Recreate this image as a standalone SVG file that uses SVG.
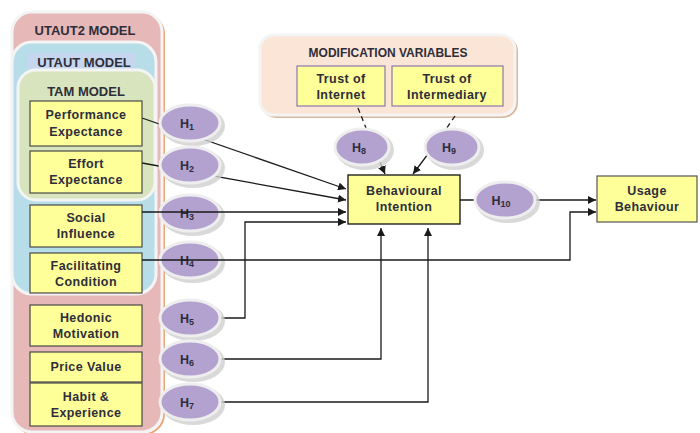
<svg xmlns="http://www.w3.org/2000/svg" width="700" height="433" viewBox="0 0 700 433">
<defs>
<style>
.t{font-family:"Liberation Sans",Arial,sans-serif;font-weight:bold;fill:#2e2e3a;text-anchor:middle}
.ttl{font-size:13px}
.bx{font-size:12.5px;letter-spacing:0.4px}
.hl{font-size:12.5px}
.sub{font-size:9px}
.yb{fill:#ffff99;stroke:#4a4a4a;stroke-width:1.2}
.yp{fill:#ffff99;stroke:#8a78b0;stroke-width:1.2}
.el{fill:#b3a2cf;stroke:#eeeeee;stroke-width:3}
.els{fill:#d0d0d0;stroke:none;opacity:0.8}
.ln{fill:none;stroke:#1a1a1a;stroke-width:1.3}
</style>
<marker id="ah" viewBox="0 0 10 10" refX="10" refY="5" markerWidth="8" markerHeight="8" orient="auto" markerUnits="userSpaceOnUse">
<path d="M0,0 L10,5 L0,10 z" fill="#1a1a1a"/>
</marker>
</defs>
<rect width="700" height="433" fill="#ffffff"/>

<g id="utaut2">
<rect x="14" y="14" width="150" height="420" rx="20" fill="none" stroke="#e8a878" stroke-width="2"/>
<rect x="12" y="12" width="150" height="420" rx="20" fill="#e6b8b7" stroke="#f4f4f4" stroke-width="3"/>
<text class="t ttl" x="85" y="35">UTAUT2 MODEL</text>
</g>
<g id="utaut">
<rect x="12" y="42" width="144" height="252" rx="20" fill="#b7dee8" stroke="#f4f4f4" stroke-width="3"/>
<rect x="28" y="53" width="108" height="18" fill="#c6d6ee"/>
<text class="t ttl" x="84" y="67">UTAUT MODEL</text>
</g>
<g id="tam">
<rect x="18" y="70" width="137" height="130" rx="18" fill="#d7e4bd" stroke="#f4f4f4" stroke-width="3"/>
<text class="t ttl" x="86" y="96">TAM MODEL</text>
</g>
<g id="modvars">
<rect x="262" y="37" width="255" height="80" rx="14" fill="none" stroke="#d9b8a0" stroke-width="2"/>
<rect x="260" y="35" width="255" height="80" rx="14" fill="#fbe5d6" stroke="#f4f4f4" stroke-width="3"/>
<text class="t" style="font-size:12px" x="388" y="57">MODIFICATION VARIABLES</text>
</g>

<g id="connectors">
<line class="ln" x1="142" y1="118" x2="346" y2="189" marker-end="url(#ah)"/>
<line class="ln" x1="142" y1="163" x2="346" y2="200" marker-end="url(#ah)"/>
<line class="ln" x1="358" y1="108" x2="366" y2="128" stroke-dasharray="5,4"/>
<line class="ln" x1="377" y1="155" x2="385" y2="174" marker-end="url(#ah)"/>
<line class="ln" x1="455" y1="116" x2="446" y2="129" stroke-dasharray="5,4"/>
<line class="ln" x1="428" y1="154" x2="413" y2="174" marker-end="url(#ah)"/>
<line class="ln" x1="460" y1="200" x2="596" y2="200" marker-end="url(#ah)"/>
<polyline class="ln" points="220,318 245,318 245,222 346,222" marker-end="url(#ah)"/>
<polyline class="ln" points="220,359 381,359 381,228" marker-end="url(#ah)"/>
<polyline class="ln" points="220,402 428,402 428,228" marker-end="url(#ah)"/>
</g>

<g id="pe"><rect class="yb" x="30" y="101" width="112" height="45"/><text class="t bx" x="86" y="119">Performance</text><text class="t bx" x="86" y="136">Expectance</text></g>
<g id="ee"><rect class="yb" x="30" y="151" width="112" height="42"/><text class="t bx" x="86" y="168">Effort</text><text class="t bx" x="86" y="184">Expectance</text></g>
<g id="si"><rect class="yb" x="30" y="205" width="112" height="42"/><text class="t bx" x="86" y="222">Social</text><text class="t bx" x="86" y="238">Influence</text></g>
<g id="fc"><rect class="yb" x="30" y="253" width="112" height="40"/><text class="t bx" x="86" y="270">Facilitating</text><text class="t bx" x="86" y="286">Condition</text></g>
<g id="hm"><rect class="yb" x="30" y="305" width="112" height="41"/><text class="t bx" x="86" y="322">Hedonic</text><text class="t bx" x="86" y="338">Motivation</text></g>
<g id="pv"><rect class="yb" x="30" y="352" width="112" height="30"/><text class="t bx" x="86" y="371">Price Value</text></g>
<g id="he"><rect class="yb" x="30" y="383" width="112" height="43"/><text class="t bx" x="86" y="401">Habit &amp;</text><text class="t bx" x="86" y="417">Experience</text></g>
<g id="ti"><rect class="yp" x="297" y="66" width="88" height="40"/><text class="t bx" x="341" y="83">Trust of</text><text class="t bx" x="341" y="99">Internet</text></g>
<g id="tm"><rect class="yp" x="392" y="66" width="111" height="40"/><text class="t bx" x="447" y="83">Trust of</text><text class="t bx" x="447" y="99">Intermediary</text></g>
<g id="bi"><rect x="348" y="175" width="112" height="49" fill="#ffff99" stroke="#111" stroke-width="1.3"/><text class="t bx" x="404" y="195">Behavioural</text><text class="t bx" x="404" y="211">Intention</text></g>
<g id="ub"><rect x="597" y="176" width="100" height="46" fill="#ffff99" stroke="#555" stroke-width="1.2"/><text class="t bx" x="647" y="195">Usage</text><text class="t bx" x="647" y="211">Behaviour</text></g>

<g id="h1"><ellipse class="els" cx="193" cy="126" rx="32" ry="20"/><ellipse class="el" cx="190" cy="123" rx="30" ry="18"/><text class="t hl" x="187" y="128">H<tspan class="sub" dy="2">1</tspan></text></g>
<g id="h2"><ellipse class="els" cx="193" cy="168" rx="32" ry="20"/><ellipse class="el" cx="190" cy="165" rx="30" ry="18"/><text class="t hl" x="187" y="170">H<tspan class="sub" dy="2">2</tspan></text></g>
<g id="h3"><ellipse class="els" cx="193" cy="216" rx="32" ry="20"/><ellipse class="el" cx="190" cy="213" rx="30" ry="18"/><text class="t hl" x="187" y="218">H<tspan class="sub" dy="2">3</tspan></text></g>
<g id="h4"><ellipse class="els" cx="193" cy="263" rx="32" ry="20"/><ellipse class="el" cx="190" cy="260" rx="30" ry="18"/><text class="t hl" x="187" y="265">H<tspan class="sub" dy="2">4</tspan></text></g>
<g id="h5"><ellipse class="els" cx="193" cy="321" rx="32" ry="20"/><ellipse class="el" cx="190" cy="318" rx="30" ry="18"/><text class="t hl" x="187" y="323">H<tspan class="sub" dy="2">5</tspan></text></g>
<g id="h6"><ellipse class="els" cx="193" cy="362" rx="32" ry="20"/><ellipse class="el" cx="190" cy="359" rx="30" ry="18"/><text class="t hl" x="187" y="364">H<tspan class="sub" dy="2">6</tspan></text></g>
<g id="h7"><ellipse class="els" cx="193" cy="405" rx="32" ry="20"/><ellipse class="el" cx="190" cy="402" rx="30" ry="18"/><text class="t hl" x="187" y="407">H<tspan class="sub" dy="2">7</tspan></text></g>
<g id="h8"><ellipse class="els" cx="365" cy="150" rx="29" ry="20"/><ellipse class="el" cx="362" cy="147" rx="27" ry="18"/><text class="t hl" x="359" y="152">H<tspan class="sub" dy="2">8</tspan></text></g>
<g id="h9"><ellipse class="els" cx="455" cy="150" rx="29" ry="20"/><ellipse class="el" cx="452" cy="147" rx="27" ry="18"/><text class="t hl" x="449" y="152">H<tspan class="sub" dy="2">9</tspan></text></g>
<g id="h10"><ellipse class="els" cx="508" cy="203" rx="32" ry="20"/><ellipse class="el" cx="505" cy="200" rx="30" ry="18"/><text class="t hl" x="501" y="205">H<tspan class="sub" dy="2">10</tspan></text></g>

<g id="connectors-over">
<line class="ln" x1="142" y1="212" x2="346" y2="212" marker-end="url(#ah)"/>
<polyline class="ln" points="142,260 570,260 570,212 596,212" marker-end="url(#ah)"/>
</g>
</svg>
